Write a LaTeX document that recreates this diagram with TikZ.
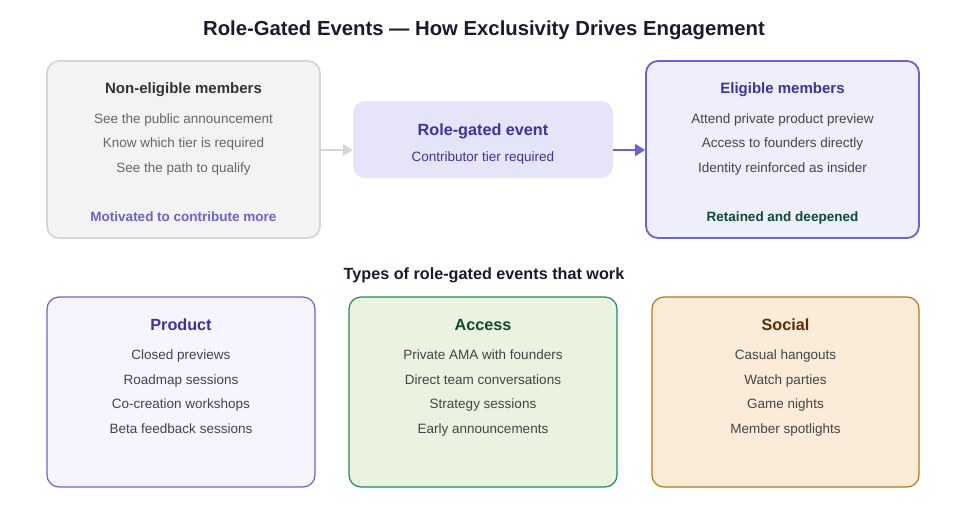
\documentclass[tikz,border=0pt]{standalone}
\usepackage{fontspec}
\setmainfont{Liberation Sans}
\usepackage{tikz}
\usetikzlibrary{arrows.meta, positioning}
\definecolor{rgnavy}{HTML}{1A1A2E}
\definecolor{rgdark}{HTML}{333333}
\definecolor{rggrayfill}{HTML}{F3F3F3}
\definecolor{rggrayline}{HTML}{D6D6D6}
\definecolor{rgpurple}{HTML}{6B62D2}
\definecolor{rgindigo}{HTML}{3A34A0}
\definecolor{rglilac}{HTML}{E6E4F8}
\definecolor{rglight}{HTML}{EFEEFC}
\definecolor{rgpale}{HTML}{F6F5FF}
\definecolor{rgmint}{HTML}{E9F3DF}
\definecolor{rggreen}{HTML}{1E8A5C}
\definecolor{rgforest}{HTML}{0F4A34}
\definecolor{rgsand}{HTML}{FAECD9}
\definecolor{rgamber}{HTML}{B8761F}
\definecolor{rgbrown}{HTML}{5A2C0A}
\definecolor{rgtext}{HTML}{444444}
\definecolor{rgmuted}{HTML}{666666}

\begin{document}
\begin{tikzpicture}[
    x=1pt, y=-1pt,
    panel/.style={rectangle, rounded corners=12pt, minimum width=#1, inner sep=0pt},
    headline/.style={font=\bfseries\fontsize{15}{18}\selectfont, anchor=base},
    kindhead/.style={font=\bfseries\fontsize{16.2}{19}\selectfont, anchor=base},
    item/.style={font=\fontsize{13.5}{16}\selectfont, text=rgtext, anchor=base},
    footer/.style={font=\bfseries\fontsize{13.5}{16}\selectfont, anchor=base},
    arrow/.style={-{Triangle[length=10pt, width=12pt]}, line width=1.8pt}
]
\useasboundingbox (0,0) rectangle (980,531);

% Title
\node[font=\bfseries\fontsize{20.3}{24}\selectfont, text=rgnavy, anchor=base] (title) at (484,35) {Role-Gated Events — How Exclusivity Drives Engagement};

% Top row
\node[panel=273pt, minimum height=177pt, fill=rggrayfill, draw=rggrayline, line width=1.8pt] (nonelig) at (183.5,149.5) {};
\node[panel=260pt, minimum height=77pt, fill=rglilac] (gated) at (483,139.5) {};
\node[panel=273pt, minimum height=177pt, fill=rglight, draw=rgpurple, line width=1.8pt] (elig) at (782.5,149.5) {};
\coordinate (gatedIn) at (gated.west |- 0,150);
\coordinate (gatedOut) at (gated.east |- 0,150);

\node[headline, text=rgdark] (neHead) at (183.5,93) {Non-eligible members};
\node[item, text=rgmuted] (ne1) at (183.5,123) {See the public announcement};
\node[item, text=rgmuted] (ne2) at (183.5,147.5) {Know which tier is required};
\node[item, text=rgmuted] (ne3) at (183.5,172) {See the path to qualify};
\node[footer, text=rgpurple] (neFoot) at (183.5,221) {Motivated to contribute more};

\node[kindhead, text=rgindigo] (gHead) at (483,135) {Role-gated event};
\node[item, text=rgindigo] (gSub) at (483,161) {Contributor tier required};

\node[headline, text=rgindigo] (elHead) at (782.5,93) {Eligible members};
\node[item] (el1) at (782.5,123) {Attend private product preview};
\node[item] (el2) at (782.5,147.5) {Access to founders directly};
\node[item] (el3) at (782.5,172) {Identity reinforced as insider};
\node[footer, text=rgforest] (elFoot) at (782.5,221) {Retained and deepened};

% Arrows
\draw[arrow, rggrayline] (nonelig.east |- gatedIn) -- (gatedIn);
\draw[arrow, rgpurple] (gatedOut) -- (elig.west |- gatedOut);

% Types
\node[font=\bfseries\fontsize{16.2}{19}\selectfont, text=rgnavy, anchor=base] (types) at (484,279) {Types of role-gated events that work};

\node[panel=268pt, minimum height=190pt, fill=rgpale, draw=rgpurple, line width=1.2pt] (product) at (181,392) {};
\node[panel=268pt, minimum height=190pt, fill=rgmint, draw=rggreen, line width=1.2pt] (access) at (483,392) {};
\node[panel=267pt, minimum height=190pt, fill=rgsand, draw=rgamber, line width=1.2pt] (social) at (785.5,392) {};

\node[kindhead, text=rgindigo] (pHead) at (181,330) {Product};
\node[item] (p1) at (181,359.5) {Closed previews};
\node[item] (p2) at (181,384) {Roadmap sessions};
\node[item] (p3) at (181,408.5) {Co-creation workshops};
\node[item] (p4) at (181,433) {Beta feedback sessions};

\node[kindhead, text=rgforest] (aHead) at (483,330) {Access};
\node[item] (a1) at (483,359.5) {Private AMA with founders};
\node[item] (a2) at (483,384) {Direct team conversations};
\node[item] (a3) at (483,408.5) {Strategy sessions};
\node[item] (a4) at (483,433) {Early announcements};

\node[kindhead, text=rgbrown] (sHead) at (785.5,330) {Social};
\node[item] (s1) at (785.5,359.5) {Casual hangouts};
\node[item] (s2) at (785.5,384) {Watch parties};
\node[item] (s3) at (785.5,408.5) {Game nights};
\node[item] (s4) at (785.5,433) {Member spotlights};

\end{tikzpicture}
\end{document}
